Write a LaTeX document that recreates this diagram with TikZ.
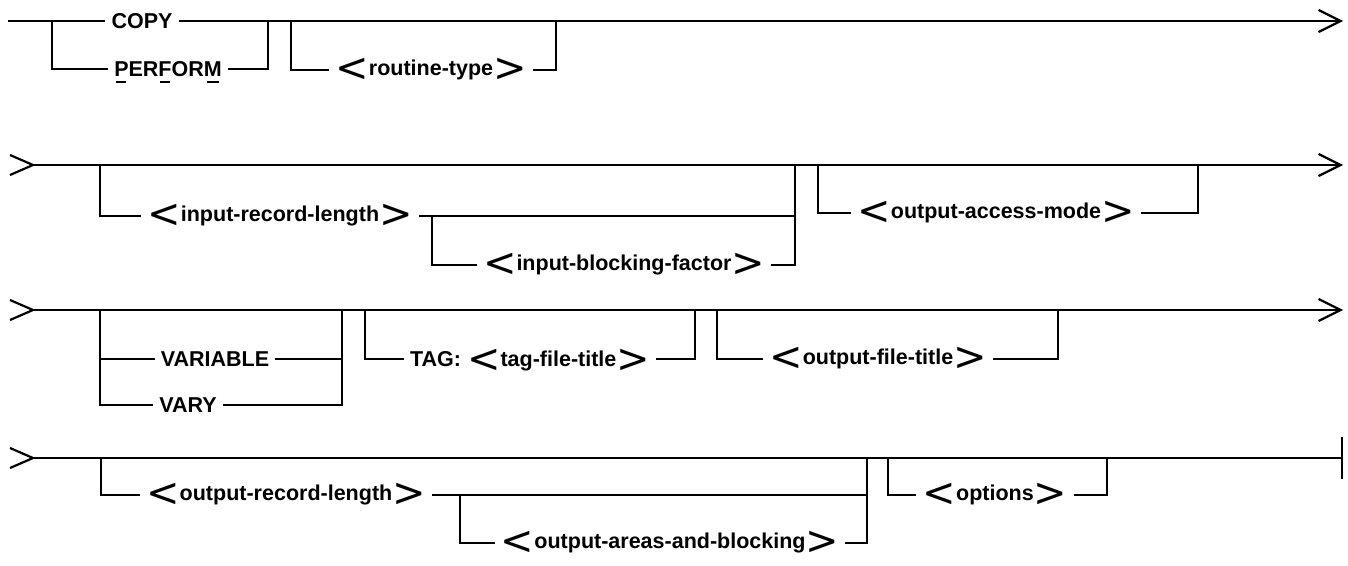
\documentclass[tikz,border=0pt]{standalone}
\usepackage{fontspec}
\setmainfont{Liberation Sans}
\newfontfamily\chevfont{DejaVu Sans}
\usetikzlibrary{arrows.meta}
% angle brackets around syntactic variables
\newcommand\chevl{\raisebox{-6pt}{\chevfont\mdseries\fontsize{40}{40}\selectfont <}}
\newcommand\chevr{\raisebox{-6pt}{\chevfont\mdseries\fontsize{40}{40}\selectfont >}}
% underlined (required) letters of a keyword
\newcommand\kwul[1]{\leavevmode\setbox0\hbox{#1}\rlap{\hbox to\wd0{\hss\rule[-6.5pt]{0.7\wd0}{2.6pt}\hss}}\box0}
\begin{document}
\begin{tikzpicture}[x=1pt,y=-1pt,
  rail/.style={line width=2.2pt},
  kw/.style={inner xsep=6pt,inner ysep=0pt,text height=15.4pt,text depth=0pt,
             font=\fontsize{21.5}{22}\selectfont\bfseries},
  nt/.style={kw,text height=11.5pt},
  fwd/.style={rail,-{Straight Barb[length=22pt,width=22pt]}},
  inchev/.style={rail,line join=round},
  railend/.style={rail,-{Bar[width=42pt]}}]
\useasboundingbox (0,0) rectangle (1348,565);

% ---------- line 1 ----------
\coordinate (r1in) at (8,21);
\coordinate (r1out) at (1343,21);
\node[kw] (copy) at (142,21) {COPY};
\node[kw] (perform) at (168,69) {\kwul{P}ER\kwul{F}OR\kwul{M}};
\node[nt] (rtype) at (431,70) {\chevl routine-type\chevr};
\draw[rail] (r1in) -- (copy.west);
\draw[fwd] (copy.east) -- (r1out);
\coordinate (b1a) at (52,21);  \coordinate (b1b) at (268,21);
\draw[rail] (b1a) |- (perform.west);
\draw[rail] (perform.east) -| (b1b);
\coordinate (b2a) at (291,21); \coordinate (b2b) at (556,21);
\draw[rail] (b2a) |- (rtype.west);
\draw[rail] (rtype.east) -| (b2b);

% ---------- line 2 ----------
\coordinate (r2in) at (33,165);
\coordinate (r2out) at (1343,165);
\draw[inchev] (r2in) ++(-23,-10) -- (r2in) -- ++(-23,10);
\draw[fwd] (r2in) -- (r2out);
\node[nt] (irl) at (280,216) {\chevl input-record-length\chevr};
\node[nt] (ibf) at (624,265) {\chevl input-blocking-factor\chevr};
\node[nt] (oam) at (996,213) {\chevl output-access-mode\chevr};
\coordinate (b3a) at (100,165); \coordinate (b3b) at (795,165);
\coordinate (b3c) at (432,216);
\draw[rail] (b3a) |- (irl.west);
\draw[rail] (irl.east) -| (b3b);
\draw[rail] (b3c) |- (ibf.west);
\draw[rail] (ibf.east) -| (b3b);
\coordinate (b4a) at (818,165); \coordinate (b4b) at (1198,165);
\draw[rail] (b4a) |- (oam.west);
\draw[rail] (oam.east) -| (b4b);

% ---------- line 3 ----------
\coordinate (r3in) at (33,310);
\coordinate (r3out) at (1343,310);
\draw[inchev] (r3in) ++(-23,-10) -- (r3in) -- ++(-23,10);
\draw[fwd] (r3in) -- (r3out);
\node[kw] (variable) at (215,359) {VARIABLE};
\node[kw] (vary) at (188,405) {VARY};
\node[kw] (tag) at (530,359) {TAG: \chevl tag-file-title\chevr};
\node[nt] (oft) at (878,359) {\chevl output-file-title\chevr};
\coordinate (b5a) at (100,310); \coordinate (b5b) at (342,310);
\coordinate (b5c) at (100,359); \coordinate (b5d) at (342,359);
\draw[rail] (b5a) |- (vary.west);
\draw[rail] (b5c) -- (variable.west);
\draw[rail] (variable.east) -- (b5d);
\draw[rail] (vary.east) -| (b5b);
\coordinate (b6a) at (365,310); \coordinate (b6b) at (695,310);
\draw[rail] (b6a) |- (tag.west);
\draw[rail] (tag.east) -| (b6b);
\coordinate (b7a) at (717,310); \coordinate (b7b) at (1058,310);
\draw[rail] (b7a) |- (oft.west);
\draw[rail] (oft.east) -| (b7b);

% ---------- line 4 ----------
\coordinate (r4in) at (33,458);
\coordinate (r4out) at (1343,458);
\draw[inchev] (r4in) ++(-23,-10) -- (r4in) -- ++(-23,10);
\draw[railend] (r4in) -- (r4out);
\node[nt] (orl) at (286,495) {\chevl output-record-length\chevr};
\node[nt] (oab) at (670,543) {\chevl output-areas-and-blocking\chevr};
\node[nt] (opt) at (995,495) {\chevl options\chevr};
\coordinate (b8a) at (101,458); \coordinate (b8b) at (867,458);
\coordinate (b8c) at (460,495);
\draw[rail] (b8a) |- (orl.west);
\draw[rail] (orl.east) -| (b8b);
\draw[rail] (b8c) |- (oab.west);
\draw[rail] (oab.east) -| (b8b);
\coordinate (b9a) at (888,458); \coordinate (b9b) at (1107,458);
\draw[rail] (b9a) |- (opt.west);
\draw[rail] (opt.east) -| (b9b);
\end{tikzpicture}
\end{document}
